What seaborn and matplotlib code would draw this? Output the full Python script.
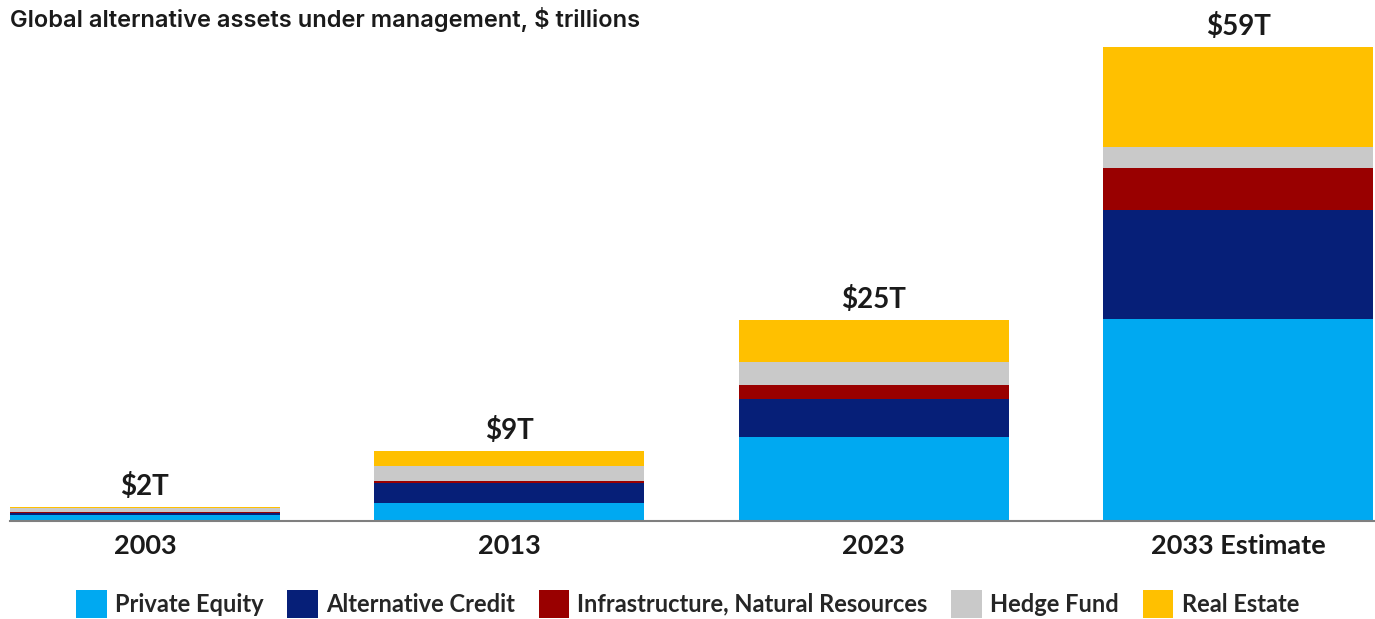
import numpy as np
import pandas as pd
import matplotlib
matplotlib.use("Agg")
import matplotlib.pyplot as plt
from matplotlib.patches import Patch
import seaborn as sns

# Global alternative AUM by asset class, $ trillions
years = ["2003", "2013", "2023", "2033 Estimate"]
private_equity = [0.7, 2.2, 10.4, 25.1]
alternative_credit = [0.3, 2.5, 4.8, 13.5]
infrastructure = [0.1, 0.3, 1.7, 5.2]
hedge_fund = [0.5, 1.8, 2.9, 2.7]
real_estate = [0.1, 1.9, 5.2, 12.4]

series_names = ["Private Equity", "Alternative Credit",
                "Infrastructure, Natural Resources", "Hedge Fund", "Real Estate"]
series_values = [private_equity, alternative_credit, infrastructure, hedge_fund, real_estate]
series_colors = ["#00A9F1", "#061F78", "#990000", "#C9C9C9", "#FFC000"]

sns.set_theme(style="white")
plt.rcParams["font.family"] = ["Lato", "DejaVu Sans"]

fig = plt.figure(figsize=(13.75, 6.19), dpi=100)
ax = fig.add_axes([10 / 1375, 98 / 619, 1365 / 1375, 499 / 619])

# stacked bars: draw cumulative totals from the top layer down
stack = np.cumsum(np.array(series_values), axis=0)
df = pd.DataFrame({"year": years})
for i in range(len(series_names) - 1, -1, -1):
    df["cum"] = stack[i]
    sns.barplot(data=df, x="year", y="cum", color=series_colors[i],
                width=0.74, saturation=1, ax=ax, linewidth=0, zorder=2)

totals = stack[-1]
for xi, t in enumerate(totals):
    ax.annotate(f"${t:.0f}T", (xi, t), xytext=(0, 5), textcoords="offset points",
                ha="center", va="bottom", fontsize=20, fontweight="bold",
                color="#1a1a1a")

ax.set_xlim(-0.37, 3.375)
ax.set_ylim(0, 62)
ax.set_xlabel("")
ax.set_ylabel("")
ax.set_yticks([])
for s in ["top", "right", "left"]:
    ax.spines[s].set_visible(False)
ax.spines["bottom"].set_color("#7f7f7f")
ax.spines["bottom"].set_linewidth(1.5)
ax.spines["bottom"].set_zorder(3)
ax.tick_params(axis="x", length=0, pad=9)
for lbl in ax.get_xticklabels():
    lbl.set_fontsize(19.5)
    lbl.set_fontweight("bold")
    lbl.set_color("#1a1a1a")

fig.text(10 / 1375, 1 - 20 / 619, "Global alternative assets under management, $ trillions",
         ha="left", va="center", fontsize=17, fontweight="semibold",
         family=["Inter", "DejaVu Sans"], color="#1a1a1a")

handles = [Patch(facecolor=c, edgecolor="none") for c in series_colors]
fig.legend(handles, series_names, loc="center", bbox_to_anchor=(0.5, 1 - 604 / 619),
           ncol=5, frameon=False, handlelength=1.3, handleheight=1.4,
           handletextpad=0.35, columnspacing=1.0,
           prop={"family": ["Lato", "DejaVu Sans"], "weight": "bold", "size": 17})

fig.savefig("out.png", dpi=100, facecolor="white")
